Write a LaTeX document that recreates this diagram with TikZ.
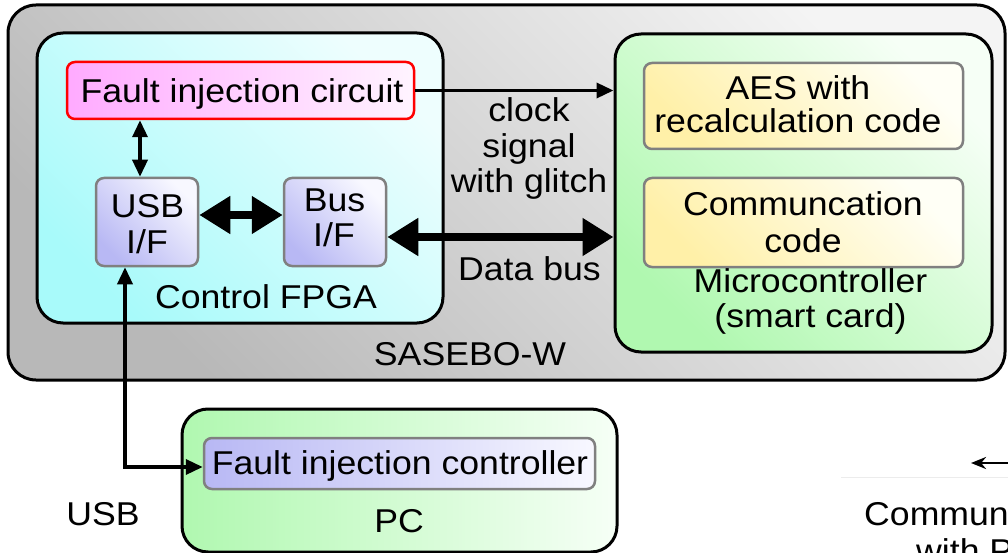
\documentclass[tikz,border=0pt]{standalone}
\usepackage{fontspec}
\setmainfont{Liberation Sans}[FakeStretch=1.08]
\usetikzlibrary{arrows.meta,calc}

\definecolor{boardlight}{HTML}{F4F4F4}
\definecolor{boarddark}{HTML}{B8B8B8}
\definecolor{fpgalight}{HTML}{EEFEFE}
\definecolor{fpgadark}{HTML}{A8FAFA}
\definecolor{pinkdark}{HTML}{FFAAFF}
\definecolor{pinklight}{HTML}{FFF4FF}
\definecolor{ifdark}{HTML}{B8B8F4}
\definecolor{iflight}{HTML}{F8F8FF}
\definecolor{mcudark}{HTML}{B0F8B0}
\definecolor{mculight}{HTML}{F6FFF6}
\definecolor{codedark}{HTML}{FFF0A8}
\definecolor{codelight}{HTML}{FFFFF6}
\definecolor{boxgray}{HTML}{808080}
\definecolor{faintline}{HTML}{ECECEC}

\begin{document}
\begin{tikzpicture}[x=1pt,y=-1pt,
  bigbox/.style={draw=black, line width=3pt, rounded corners=26pt, inner sep=0pt},
  subbox/.style={draw=boxgray, line width=2.5pt, rounded corners=8pt, inner sep=0pt},
  diagfill/.style 2 args={bottom color=#1, top color=#2, shading angle=-45},
  horizfill/.style 2 args={left color=#1, right color=#2},
  lbl/.style={font=\fontsize{33}{36}\selectfont, inner sep=0pt, anchor=base},
  thinboth/.style={line width=3.5pt, {Triangle[length=17pt,width=15pt]}-{Triangle[length=17pt,width=15pt]}},
  thinone/.style={line width=3.5pt, -{Triangle[length=17pt,width=15pt]}},
  thickboth/.style={line width=8pt, {Triangle[length=31pt,width=36pt]}-{Triangle[length=31pt,width=36pt]}}
]
\path[use as bounding box, clip] (0,0) rectangle (1008,553);

% board and the three main blocks
\node[bigbox, diagfill={boarddark}{boardlight}, rounded corners=28pt,
      minimum width=997pt, minimum height=375pt] (sasebo) at (506.5,192.5) {};
\node[bigbox, diagfill={fpgadark}{fpgalight},
      minimum width=406pt, minimum height=290pt] (fpga) at (240,178) {};
\node[bigbox, diagfill={mcudark}{mculight},
      minimum width=377pt, minimum height=318pt] (micro) at (803.5,193) {};
\node[bigbox, horizfill={mcudark}{mculight},
      minimum width=435pt, minimum height=143pt] (pc) at (399.5,480.5) {};

% inner blocks
\node[subbox, draw=red, horizfill={pinkdark}{pinklight},
      minimum width=347pt, minimum height=57pt] (fic) at (240.5,90.5) {};
\node[subbox, diagfill={ifdark}{iflight},
      minimum width=102pt, minimum height=88pt] (usbif) at (147,222) {};
\node[subbox, diagfill={ifdark}{iflight},
      minimum width=102pt, minimum height=88pt] (busif) at (335,222) {};
\node[subbox, diagfill={codedark}{codelight},
      minimum width=319pt, minimum height=86pt] (aes) at (803.5,106) {};
\node[subbox, diagfill={codedark}{codelight},
      minimum width=319pt, minimum height=89pt] (comm) at (803.5,222.5) {};
\node[subbox, horizfill={ifdark}{iflight},
      minimum width=391pt, minimum height=51pt] (ctrl) at (399.5,463.5) {};

% connections
\draw[thinboth] ([xshift=-7pt]usbif.north) -- ([xshift=-7pt]usbif.north |- fic.south);
\draw[thinone] (fic.east) -- (fic.east -| micro.west);
\draw[thickboth] ([yshift=7pt]usbif.east) -- ([yshift=7pt]busif.west);
\draw[thickboth] ([yshift=-15pt]busif.east) -- ([yshift=-15pt]busif.east -| micro.west);
\draw[thinboth] ([xshift=-22pt]usbif.south) |- ([yshift=-3.5pt]ctrl.west);

% link to the host, running off the right edge
\coordinate (hostR) at (1012,463);
\coordinate (hostL) at (971,463);
\draw[white, line width=5pt] (hostR) -- ([xshift=-3pt]hostL);
\draw[line width=2.5pt, -{Stealth[length=15pt,width=12pt]}] (hostR) -- (hostL);
\coordinate (sepL) at (841,477);
\coordinate (sepR) at (1012,477);
\draw[faintline, line width=1pt] (sepL) -- (sepR);

% labels
\node[lbl] (tfic) at (242,103) {Fault injection circuit};
\node[lbl] (tusb1) at (147.5,218) {USB};
\node[lbl] (tusb2) at (147,253) {I/F};
\node[lbl] (tbus1) at (334.5,212) {Bus};
\node[lbl] (tbus2) at (334,247) {I/F};
\node[lbl] (tfpga) at (266,308) {Control FPGA};
\node[lbl] (tclk1) at (529,122) {clock};
\node[lbl] (tclk2) at (529,158) {signal};
\node[lbl] (tclk3) at (529,193) {with glitch};
\node[lbl] (tdata) at (529.5,280) {Data bus};
\node[lbl] (taes1) at (798,100) {AES with};
\node[lbl] (taes2) at (798,133) {recalculation code};
\node[lbl] (tcom1) at (803,215) {Communcation};
\node[lbl] (tcom2) at (803,252) {code};
\node[lbl] (tmcu1) at (810.5,292) {Microcontroller};
\node[lbl] (tmcu2) at (810.5,327) {(smart card)};
\node[lbl] (tsas) at (470,365) {SASEBO-W};
\node[lbl] (tctrl) at (400,474) {Fault injection controller};
\node[lbl] (tpc) at (399,532) {PC};
\node[lbl] (tusb) at (103,525) {USB};
\node[lbl, anchor=base west] (thost1) at (864,525) {Communication};
\node[lbl, anchor=base west] (thost2) at (916,562) {with PC};
\end{tikzpicture}
\end{document}
